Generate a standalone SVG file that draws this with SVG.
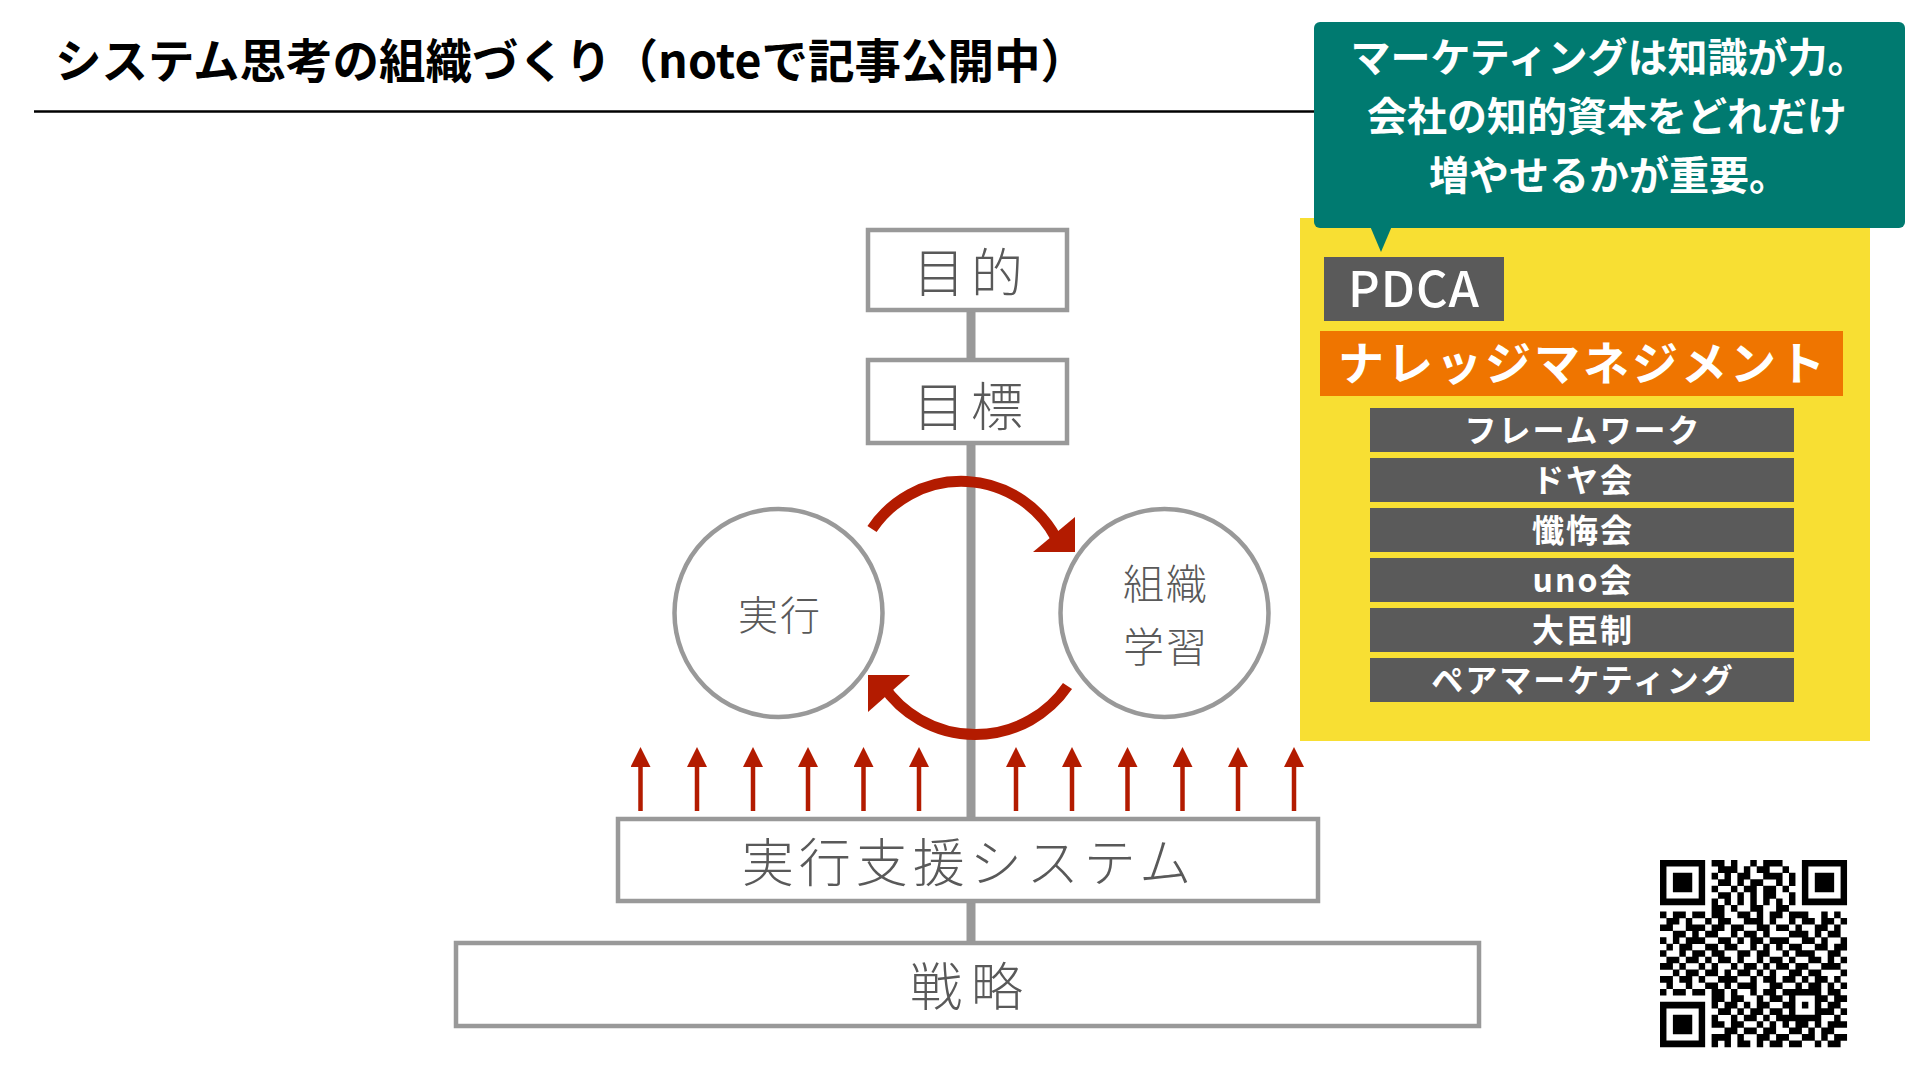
<svg xmlns="http://www.w3.org/2000/svg" width="1920" height="1080" viewBox="0 0 1920 1080">
<style>
  .jp { font-family: "Noto Sans CJK JP", "Noto Sans", sans-serif; }
  .box { fill: #ffffff; stroke: #999999; stroke-width: 4.5; }
  .lbl { font-family: "Noto Sans CJK JP", "Noto Sans", sans-serif; fill: #595959; font-weight: 300; text-anchor: middle; }
  .big { font-size: 52px; letter-spacing: 6px; }
  .circ { fill: #ffffff; stroke: #999999; stroke-width: 4.5; }
  .item { fill: #5a5a5a; }
  .itxt { font-family: "Noto Sans CJK JP", "Noto Sans", sans-serif; font-size: 32px; font-weight: 700; fill: #ffffff; text-anchor: middle; letter-spacing: 2px; }
  .up { stroke: #b31b00; stroke-width: 4.5; marker-end: url(#uphead); }
  .arc { fill: none; stroke: #b31b00; stroke-width: 11; }
  .head { fill: #b31b00; }
</style>
<defs>
  <marker id="uphead" viewBox="0 -10 20 20" refX="0" refY="0" markerWidth="20" markerHeight="20" markerUnits="userSpaceOnUse" orient="auto">
    <path d="M0 -10 L20 0 L0 10 z" fill="#b31b00"/>
  </marker>
</defs>
<rect width="1920" height="1080" fill="#ffffff"/>

<g id="title">
  <text class="jp" x="55" y="78" font-size="46.5" font-weight="700" fill="#000000">システム思考の組織づくり（noteで記事公開中）</text>
  <line x1="34" y1="111.5" x2="1314" y2="111.5" stroke="#000000" stroke-width="2.5"/>
</g>

<g id="connectors">
  <line x1="971" y1="300" x2="971" y2="950" stroke="#999999" stroke-width="9"/>
  <path class="arc" d="M872 529 A107.5 107.5 0 0 1 1056.2 538.3"/>
  <polygon class="head" points="1075,517 1075,552 1033,552"/>
  <path class="arc" d="M1067.5 686 A111.6 111.6 0 0 1 882.9 685.4"/>
  <polygon class="head" points="868,675 910,675 868,712"/>
  <line class="up" x1="640.5" y1="811" x2="640.5" y2="767"/>
  <line class="up" x1="697" y1="811" x2="697" y2="767"/>
  <line class="up" x1="753" y1="811" x2="753" y2="767"/>
  <line class="up" x1="808" y1="811" x2="808" y2="767"/>
  <line class="up" x1="863.5" y1="811" x2="863.5" y2="767"/>
  <line class="up" x1="919" y1="811" x2="919" y2="767"/>
  <line class="up" x1="1016" y1="811" x2="1016" y2="767"/>
  <line class="up" x1="1072" y1="811" x2="1072" y2="767"/>
  <line class="up" x1="1127.5" y1="811" x2="1127.5" y2="767"/>
  <line class="up" x1="1182.5" y1="811" x2="1182.5" y2="767"/>
  <line class="up" x1="1238" y1="811" x2="1238" y2="767"/>
  <line class="up" x1="1294" y1="811" x2="1294" y2="767"/>
</g>

<g id="purpose">
  <rect class="box" x="868" y="230" width="199" height="80"/>
  <text class="lbl big" x="971" y="292">目的</text>
</g>
<g id="goal">
  <rect class="box" x="868" y="360" width="199" height="83"/>
  <text class="lbl big" x="971" y="426">目標</text>
</g>
<g id="execution">
  <circle class="circ" cx="778.5" cy="613" r="104"/>
  <text class="lbl" x="780" y="630" font-size="40" letter-spacing="2">実行</text>
</g>
<g id="org-learning">
  <circle class="circ" cx="1164.5" cy="613" r="104"/>
  <text class="lbl" x="1166" y="599" font-size="41" letter-spacing="2">組織</text>
  <text class="lbl" x="1166" y="662" font-size="41" letter-spacing="2">学習</text>
</g>
<g id="support-system">
  <rect class="box" x="618" y="819" width="700" height="82"/>
  <text class="lbl" x="969" y="882" font-size="52" letter-spacing="5">実行支援システム</text>
</g>
<g id="strategy">
  <rect class="box" x="456" y="943" width="1023" height="83"/>
  <text class="lbl" x="971" y="1006" font-size="52" letter-spacing="9">戦略</text>
</g>

<g id="knowledge-panel">
  <rect x="1300" y="218" width="570" height="523" fill="#f8df33"/>
  <g id="pdca">
    <rect x="1324" y="257" width="180" height="64" fill="#5a5a5a"/>
    <text class="jp" x="1414" y="307" font-size="49" font-weight="500" fill="#ffffff" text-anchor="middle" letter-spacing="1">PDCA</text>
  </g>
  <g id="knowledge-management">
    <rect x="1320" y="331" width="523" height="65" fill="#ef7500"/>
    <text class="jp" x="1583" y="380" font-size="46" font-weight="700" fill="#ffffff" text-anchor="middle" letter-spacing="3">ナレッジマネジメント</text>
  </g>
  <g id="item-framework"><rect class="item" x="1370" y="408" width="424" height="44"/><text class="itxt" x="1583" y="442">フレームワーク</text></g>
  <g id="item-doya"><rect class="item" x="1370" y="458" width="424" height="44"/><text class="itxt" x="1583" y="492">ドヤ会</text></g>
  <g id="item-zange"><rect class="item" x="1370" y="508" width="424" height="44"/><text class="itxt" x="1583" y="542">懺悔会</text></g>
  <g id="item-uno"><rect class="item" x="1370" y="558" width="424" height="44"/><text class="itxt" x="1583" y="592">uno会</text></g>
  <g id="item-daijin"><rect class="item" x="1370" y="608" width="424" height="44"/><text class="itxt" x="1583" y="642">大臣制</text></g>
  <g id="item-pair"><rect class="item" x="1370" y="658" width="424" height="44"/><text class="itxt" x="1583" y="692">ペアマーケティング</text></g>
</g>

<g id="callout">
  <rect x="1314" y="22" width="591" height="206" rx="6" fill="#007a70"/>
  <polygon points="1370,226 1392,226 1381,252" fill="#007a70"/>
  <g class="jp" font-size="40" font-weight="700" fill="#ffffff" text-anchor="middle">
    <text x="1609" y="72">マーケティングは知識が力。</text>
    <text x="1607" y="131">会社の知的資本をどれだけ</text>
    <text x="1609" y="190">増やせるかが重要。</text>
  </g>
</g>

<g id="qr-code" transform="translate(1660,860) scale(6.45)">
  <path fill="none" stroke="#000000" stroke-width="1.03" d="
M0 .5h7M8 .5h2M11 .5h1M14 .5h1M16 .5h3M22 .5h7
M0 1.5h1M6 1.5h1M9 1.5h3M13 1.5h1M15 1.5h2M19 1.5h1M22 1.5h1M28 1.5h1
M0 2.5h1M2 2.5h3M6 2.5h1M8 2.5h1M10 2.5h1M12 2.5h2M16 2.5h3M20 2.5h1M22 2.5h1M24 2.5h3M28 2.5h1
M0 3.5h1M2 3.5h3M6 3.5h1M9 3.5h2M12 3.5h1M14 3.5h2M18 3.5h1M20 3.5h1M22 3.5h1M24 3.5h3M28 3.5h1
M0 4.5h1M2 4.5h3M6 4.5h1M8 4.5h1M11 4.5h1M13 4.5h2M16 4.5h2M19 4.5h1M22 4.5h1M24 4.5h3M28 4.5h1
M0 5.5h1M6 5.5h1M9 5.5h2M12 5.5h1M14 5.5h1M16 5.5h2M20 5.5h1M22 5.5h1M28 5.5h1
M0 6.5h7M8 6.5h1M10 6.5h1M12 6.5h1M14 6.5h1M16 6.5h1M18 6.5h1M20 6.5h1M22 6.5h7
M8 7.5h2M11 7.5h1M14 7.5h2M18 7.5h2
M0 8.5h1M2 8.5h2M5 8.5h2M8 8.5h2M12 8.5h2M15 8.5h1M17 8.5h2M20 8.5h3M25 8.5h1M27 8.5h1
M1 9.5h2M4 9.5h1M7 9.5h1M9 9.5h2M13 9.5h3M17 9.5h1M20 9.5h1M22 9.5h2M25 9.5h2M28 9.5h1
M0 10.5h2M4 10.5h3M8 10.5h2M11 10.5h2M15 10.5h2M18 10.5h2M21 10.5h1M24 10.5h2M27 10.5h1
M2 11.5h2M5 11.5h1M7 11.5h2M11 11.5h1M13 11.5h2M16 11.5h1M20 11.5h3M24 11.5h1M26 11.5h2
M0 12.5h1M2 12.5h1M4 12.5h3M9 12.5h2M12 12.5h1M14 12.5h2M17 12.5h3M22 12.5h2M25 12.5h1M28 12.5h1
M1 13.5h1M3 13.5h2M7 13.5h2M10 13.5h2M14 13.5h1M16 13.5h1M18 13.5h1M20 13.5h2M24 13.5h2M27 13.5h2
M0 14.5h1M3 14.5h1M5 14.5h2M8 14.5h2M12 14.5h2M15 14.5h2M19 14.5h1M21 14.5h3M26 14.5h2
M1 15.5h2M4 15.5h2M7 15.5h1M9 15.5h2M12 15.5h1M15 15.5h1M17 15.5h2M20 15.5h1M23 15.5h2M26 15.5h1M28 15.5h1
M0 16.5h2M3 16.5h1M6 16.5h1M8 16.5h1M11 16.5h1M13 16.5h2M16 16.5h1M18 16.5h2M21 16.5h2M25 16.5h3
M2 17.5h1M4 17.5h2M7 17.5h2M10 17.5h1M12 17.5h2M15 17.5h1M17 17.5h1M20 17.5h2M23 17.5h2M28 17.5h1
M0 18.5h2M3 18.5h2M6 18.5h1M9 18.5h3M14 18.5h1M16 18.5h2M19 18.5h2M22 18.5h1M24 18.5h2M27 18.5h1
M1 19.5h1M4 19.5h1M7 19.5h2M10 19.5h1M12 19.5h3M17 19.5h2M21 19.5h1M23 19.5h2M26 19.5h1M28 19.5h1
M0 20.5h1M2 20.5h2M5 20.5h2M8 20.5h2M11 20.5h1M14 20.5h1M16 20.5h2M19 20.5h6M26 20.5h2
M8 21.5h2M11 21.5h2M15 21.5h1M17 21.5h2M20 21.5h1M24 21.5h2M27 21.5h2
M0 22.5h7M8 22.5h1M10 22.5h2M13 22.5h1M15 22.5h2M19 22.5h2M22 22.5h1M24 22.5h1M26 22.5h2
M0 23.5h1M6 23.5h1M9 23.5h2M12 23.5h1M14 23.5h2M17 23.5h2M20 23.5h1M24 23.5h3M28 23.5h1
M0 24.5h1M2 24.5h3M6 24.5h1M8 24.5h1M11 24.5h1M13 24.5h2M16 24.5h1M18 24.5h7M27 24.5h1
M0 25.5h1M2 25.5h3M6 25.5h1M8 25.5h2M11 25.5h2M15 25.5h1M17 25.5h1M19 25.5h1M21 25.5h2M24 25.5h1M26 25.5h3
M0 26.5h1M2 26.5h3M6 26.5h1M10 26.5h2M13 26.5h2M16 26.5h2M20 26.5h2M23 26.5h1M25 26.5h2
M0 27.5h1M6 27.5h1M8 27.5h3M12 27.5h1M15 27.5h2M18 27.5h2M22 27.5h2M25 27.5h1M27 27.5h2
M0 28.5h7M8 28.5h1M10 28.5h1M12 28.5h2M15 28.5h1M17 28.5h2M20 28.5h2M24 28.5h1M26 28.5h2"/>
</g>
</svg>
